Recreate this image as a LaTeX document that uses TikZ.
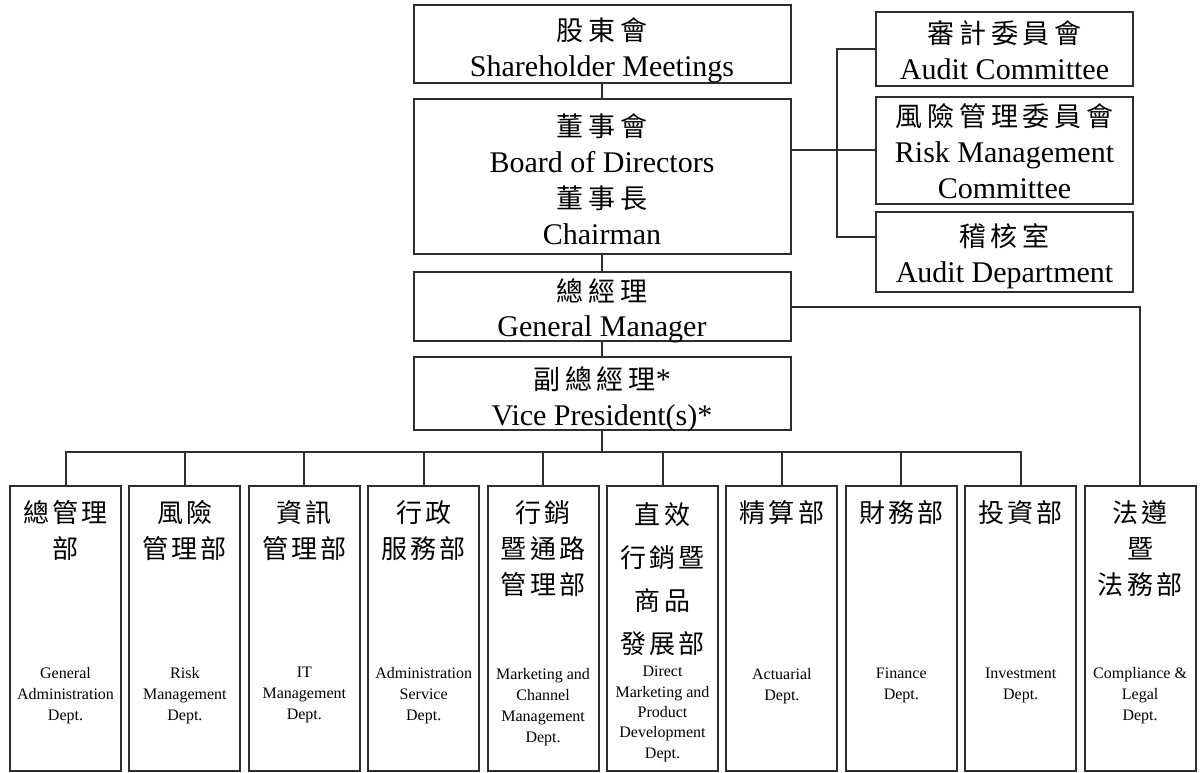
\documentclass[tikz,border=0pt]{standalone}
\usepackage{fontspec}
\setmainfont{Liberation Serif}
\newfontfamily\cjkA[LetterSpace=18]{Noto Sans CJK TC}
\newfontfamily\cjkB[LetterSpace=12]{Noto Sans CJK TC}
\newcommand\tc[1]{{\cjkA\fontsize{27}{36}\selectfont #1}}
\newcommand\dcfont{\cjkB\fontsize{26}{36}\selectfont}
\newcommand\dcfontb{\cjkB\fontsize{26}{43}\selectfont}
\begin{document}
\begin{tikzpicture}[x=1pt,y=-1pt,
  box/.style={draw=black!82,line width=2pt,inner sep=0pt,align=center},
  tx/.style={inner sep=0pt,align=center,font=\fontsize{30}{36}\selectfont},
  dept/.style={box,minimum width=111pt,minimum height=285pt},
  dcj/.style={anchor=north,inner sep=0pt,align=center,font=\dcfont},
  den/.style={anchor=north,inner sep=0pt,align=center,font=\fontsize{16}{21}\selectfont},
  conn/.style={draw=black!82,line width=2pt}]
\useasboundingbox (0,0) rectangle (1200,772);

% top column
\node[box,minimum width=377pt,minimum height=78pt,
  label={[tx,yshift=-6pt]center:{\tc{股東會}\\Shareholder Meetings}}] (sh) at (602,44) {};
\node[box,minimum width=377pt,minimum height=155pt,
  label={[tx,yshift=-3pt]center:{\tc{董事會}\\Board of Directors\\\tc{董事長}\\Chairman}}] (bd) at (602,176.5) {};
\node[box,minimum width=377pt,minimum height=69pt,
  label={[tx,yshift=-4pt,font=\fontsize{30}{35}\selectfont]center:{\tc{總經理}\\General Manager}}] (gm) at (602,306.5) {};
\node[box,minimum width=377pt,minimum height=73pt,
  label={[tx,yshift=-6pt]center:{\tc{副總經理}*\\Vice President(s)*}}] (vp) at (602,393.5) {};

% committees
\node[box,minimum width=257pt,minimum height=74pt,
  label={[tx,yshift=-1.5pt]center:{\tc{審計委員會}\\Audit Committee}}] (ac) at (1004.5,49) {};
\node[box,minimum width=257pt,minimum height=107pt,
  label={[tx,yshift=-1.5pt]center:{\tc{風險管理委員會}\\Risk Management\\Committee}}] (rc) at (1004.5,150) {};
\node[box,minimum width=257pt,minimum height=80pt,
  label={[tx,yshift=-4pt]center:{\tc{稽核室}\\Audit Department}}] (ad) at (1004.5,252) {};

% departments
\node[dept] (d1) at (65.5,628.5) {};
\node[dept] (d2) at (184.9,628.5) {};
\node[dept] (d3) at (304.3,628.5) {};
\node[dept] (d4) at (423.7,628.5) {};
\node[dept] (d5) at (543.1,628.5) {};
\node[dept] (d6) at (662.5,628.5) {};
\node[dept] (d7) at (781.9,628.5) {};
\node[dept] (d8) at (901.3,628.5) {};
\node[dept] (d9) at (1020.7,628.5) {};
\node[dept] (d10) at (1140.1,628.5) {};

\node[dcj] (c1) at (65.5,500) {總管理\\部};
\node[dcj] (c2) at (184.9,500) {風險\\管理部};
\node[dcj] (c3) at (304.3,500) {資訊\\管理部};
\node[dcj] (c4) at (423.7,500) {行政\\服務部};
\node[dcj] (c5) at (543.1,500) {行銷\\暨通路\\管理部};
\node[dcj,font=\dcfontb] (c6) at (662.5,502) {直效\\行銷暨\\商品\\發展部};
\node[dcj] (c7) at (781.9,500) {精算部};
\node[dcj] (c8) at (901.3,500) {財務部};
\node[dcj] (c9) at (1020.7,500) {投資部};
\node[dcj] (c10) at (1140.1,500) {法遵\\暨\\法務部};

\node[den] (e1) at (65.5,667) {General\\Administration\\Dept.};
\node[den] (e2) at (184.9,667) {Risk\\Management\\Dept.};
\node[den] (e3) at (304.3,667) {IT\\Management\\Dept.};
\node[den] (e4) at (423.7,667) {Administration\\Service\\Dept.};
\node[den] (e5) at (543.1,668) {Marketing and\\Channel\\Management\\Dept.};
\node[den,font=\fontsize{16}{20.3}\selectfont] (e6) at (662.5,666) {Direct\\Marketing and\\Product\\Development\\Dept.};
\node[den] (e7) at (781.9,668) {Actuarial\\Dept.};
\node[den] (e8) at (901.3,668) {Finance\\Dept.};
\node[den] (e9) at (1020.7,668) {Investment\\Dept.};
\node[den] (e10) at (1140.1,667) {Compliance \&\\Legal\\Dept.};

% connectors
\coordinate (bus) at (0,452);
\coordinate (brk) at (837,0);
\coordinate (adj) at ([yshift=15pt]ad.west);
\draw[conn] (sh.south) -- (bd.north);
\draw[conn] (bd.south) -- (gm.north);
\draw[conn] (gm.south) -- (vp.north);
\foreach \k in {1,...,9}
  \draw[conn] (vp.south) |- (d\k.north |- bus) -- (d\k.north);
\draw[conn] (gm.east) -| (d10.north);
\draw[conn] (bd.east |- rc.west) -- (rc.west);
\draw[conn] (ac.west) -- (ac.west -| brk) -- (brk |- adj) -- (adj);
\end{tikzpicture}
\end{document}
